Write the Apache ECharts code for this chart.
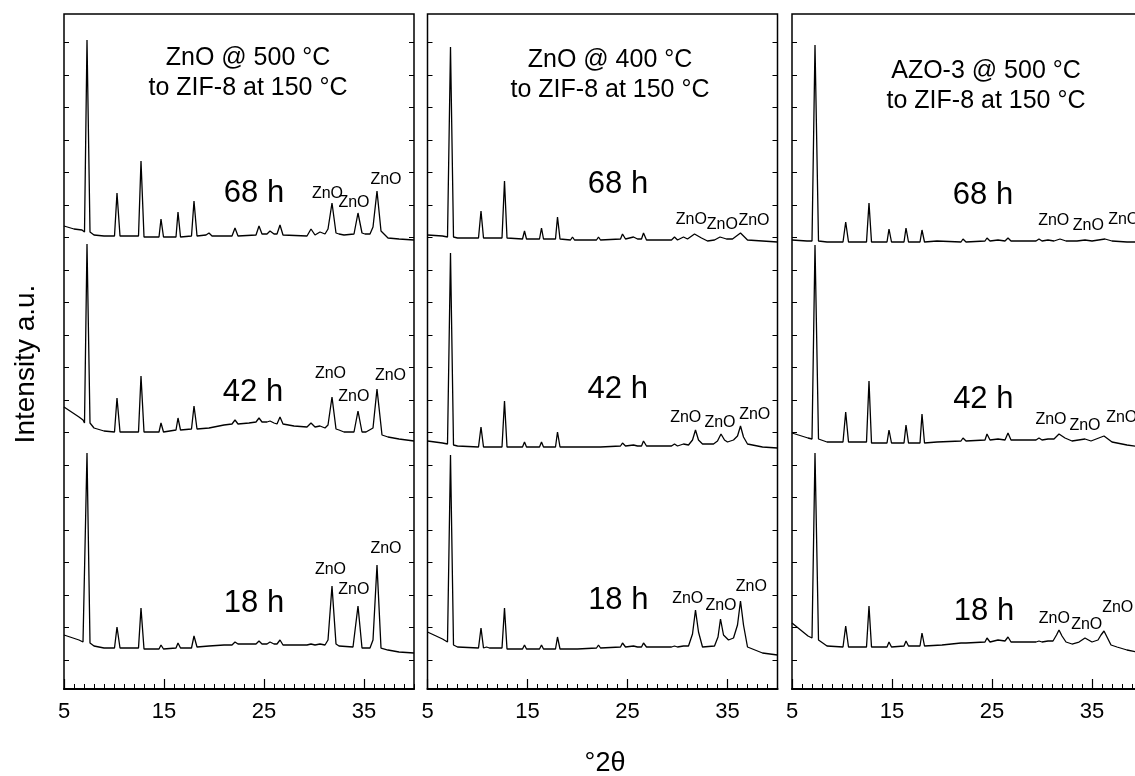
<!DOCTYPE html>
<html>
<head>
<meta charset="utf-8">
<script src="https://cdn.jsdelivr.net/npm/echarts@6/dist/echarts.min.js"></script>
<style>
  html, body { margin: 0; padding: 0; background: #fff; }
  #main { width: 1135px; height: 776px; }
</style>
</head>
<body>
<div id="main"></div>
<script>
// panel captions
var panelTitles = [
  'ZnO @ 500 °C\nto ZIF-8 at 150 °C',
  'ZnO @ 400 °C\nto ZIF-8 at 150 °C',
  'AZO-3 @ 500 °C\nto ZIF-8 at 150 °C'
];
var xTickLabels = [5, 15, 25, 35];

// XRD traces [2theta, intensity a.u.] (stacked)
var zno500_68h = [[5,463],[6,460],[6.8,459],[7.05,457],[7.3,649],[7.6,457],[8,454],[9,453],[10.05,453],[10.3,496],[10.6,453],[12.45,453],[12.7,528],[13,452],[14.5,452],[14.7,470],[14.95,452],[16.2,452],[16.4,477],[16.65,452],[17.75,453],[18,488],[18.3,453],[19.2,454],[19.5,456],[19.8,453],[21.8,453],[22.1,461],[22.4,453],[24.2,454],[24.5,463],[24.8,455],[25.3,455],[25.6,458],[26,455],[26.3,455],[26.6,464],[26.9,454],[29.3,453],[29.7,460],[30.1,454],[30.6,457],[31.1,455],[31.4,460],[31.8,486],[32.2,456],[32.5,455],[33,454],[34,455],[34.4,476],[34.8,456],[35.1,455],[35.6,455],[35.9,462],[36.3,498],[36.7,458],[37.4,451],[38.5,450],[40,449]];
var zno500_42h = [[5,282],[6.5,272],[6.9,269],[7.05,266],[7.3,445],[7.6,266],[8,261],[9,258],[10.05,257],[10.3,291],[10.6,257],[12.45,257],[12.7,313],[13,257],[14.5,257],[14.7,266],[14.95,257],[16.2,259],[16.4,271],[16.65,259],[17.75,260],[18,283],[18.3,260],[19.5,261],[21,264],[21.8,265],[22.1,269],[22.4,265],[23.5,266],[24.2,267],[24.5,271],[24.8,267],[25.3,267],[25.6,268],[26,266],[26.3,265],[26.6,272],[26.9,265],[28,263],[29.3,262],[29.7,266],[30.1,262],[30.6,263],[31.1,261],[31.4,264],[31.8,292],[32.2,260],[32.5,259],[33,257],[34,257],[34.4,278],[34.8,257],[35.2,257],[35.9,261],[36.3,300],[36.8,254],[37.4,252],[38.5,250],[40,248]];
var zno500_18h = [[5,54],[6.5,49],[6.9,47],[7.05,46],[7.3,236],[7.6,46],[8,43],[9,41],[10.05,41],[10.3,62],[10.6,41],[12.45,41],[12.7,81],[13,40],[14.5,40],[14.7,44],[14.95,40],[16.2,41],[16.4,46],[16.65,41],[17.75,41],[18,53],[18.3,42],[19.5,43],[21,44],[21.8,44],[22.1,47],[22.4,45],[24.2,45],[24.5,48],[24.8,45],[25.3,45],[25.6,47],[26,45],[26.3,45],[26.6,49],[26.9,44],[29.3,44],[29.7,45],[30.1,44],[30.6,45],[31.1,44],[31.4,49],[31.8,103],[32.2,45],[32.5,43],[33.9,42],[34.4,83],[34.8,41],[35.6,41],[35.9,49],[36.3,124],[36.7,41],[37.4,39],[38.5,37],[40,36]];

var zno400_68h = [[5,454],[6.5,453],[7,452],[7.3,642],[7.6,452],[8,451],[10.1,451],[10.35,478],[10.6,451],[12.45,451],[12.7,508],[12.95,451],[14.5,450],[14.7,458],[14.9,450],[16.2,450],[16.4,461],[16.6,450],[17.8,450],[18,472],[18.25,450],[19.3,449],[19.5,452],[19.7,449],[21.9,449],[22.1,452],[22.3,449],[24.3,450],[24.5,455],[24.8,450],[25.6,452],[26,450],[26.4,450],[26.6,456],[26.9,449],[29.4,449],[29.7,452],[30,449],[30.6,452],[31,450],[31.7,455],[32.4,451],[33,448],[33.7,449],[34.25,452],[34.9,450],[35.5,450],[36.3,456],[37,449],[38.5,448],[40,447]];
var zno400_42h = [[5,248],[6.5,246],[7,245],[7.3,436],[7.6,244],[8,243],[10.1,242],[10.35,262],[10.6,242],[12.45,242],[12.7,288],[12.95,242],[14.5,242],[14.7,247],[14.9,242],[16.2,242],[16.4,247],[16.6,242],[17.8,242],[18,257],[18.25,242],[21.9,242],[22.1,244],[22.3,242],[24.3,243],[24.5,246],[24.8,243],[25.6,244],[26,243],[26.4,243],[26.6,248],[26.9,243],[29.4,243],[29.7,245],[30,243],[30.6,245],[31.1,244],[31.5,249],[31.8,259],[32.1,249],[32.5,245],[33.6,245],[34,248],[34.35,255],[34.7,249],[35,247],[35.6,249],[36,253],[36.3,263],[36.6,252],[37,245],[38.5,242],[40,241]];
var zno400_18h = [[5,57],[6.5,50],[7,47],[7.3,234],[7.6,44],[8,42],[10.1,41],[10.35,61],[10.6,41],[10.9,42],[11.2,41],[12.45,41],[12.7,81],[12.95,40],[14.5,40],[14.7,44],[14.9,40],[16.2,40],[16.4,44],[16.6,40],[17.8,40],[18,52],[18.25,40],[20,40],[21.9,41],[22.1,44],[22.3,41],[24.3,42],[24.5,46],[24.8,42],[25.6,43],[26,42],[26.4,42],[26.6,46],[26.9,42],[29.4,42],[29.7,43],[30,42],[30.6,43],[31.1,43],[31.5,55],[31.8,79],[32.1,57],[32.5,42],[33.7,43],[34.05,52],[34.3,70],[34.6,54],[35.1,49],[35.6,51],[36,64],[36.3,88],[36.6,64],[37,42],[38.5,36],[40,34]];

var azo3_68h = [[5,449],[6.5,448],[7,448],[7.3,644],[7.65,448],[8.5,447],[10.1,447],[10.37,467],[10.65,447],[12.45,447],[12.7,486],[12.95,447],[14.5,447],[14.7,460],[14.95,447],[16.2,447],[16.4,461],[16.65,447],[17.8,447],[18,459],[18.25,447],[19.5,448],[21.9,447],[22.1,450],[22.4,447],[24.3,448],[24.5,451],[24.8,448],[25.6,449],[26.3,448],[26.6,451],[26.9,448],[29.4,448],[29.7,450],[30,448],[30.6,449],[31.2,448],[31.8,450],[32.4,448],[33.5,448],[34.3,449],[35,448],[36.3,450],[37,448],[38.5,447],[40,447]];
var azo3_42h = [[5,256],[6.6,251],[7,250],[7.3,444],[7.65,250],[8.5,247],[10.1,247],[10.37,277],[10.65,247],[12.45,247],[12.7,308],[12.95,246],[14.5,246],[14.7,259],[14.95,246],[16.2,246],[16.4,264],[16.65,246],[17.8,246],[18,275],[18.25,246],[19.5,247],[21.9,248],[22.1,251],[22.4,248],[24.3,249],[24.5,255],[24.8,249],[25.6,250],[26.3,249],[26.6,256],[26.9,249],[29.4,249],[29.7,251],[30,249],[30.6,250],[31.2,250],[31.7,255],[32.3,251],[33,248],[34.3,250],[34.9,248],[36.2,253],[37,247],[38.5,244],[40,242]];
var azo3_18h = [[5,66],[6.6,53],[7,51],[7.3,236],[7.65,49],[8.5,43],[10.1,42],[10.37,63],[10.65,42],[12.45,42],[12.7,83],[12.95,42],[14.5,42],[14.7,47],[14.95,42],[16.2,43],[16.4,48],[16.65,43],[17.8,43],[18,56],[18.25,43],[20,44],[21.9,46],[22.1,48],[22.4,46],[24.3,47],[24.5,51],[24.8,47],[25.6,49],[26.3,48],[26.6,52],[26.9,47],[29.4,47],[29.7,48],[30,47],[30.6,48],[31.1,48],[31.45,54],[31.7,59],[32,53],[32.4,47],[33,45],[33.7,47],[34.3,51],[35,47],[35.6,49],[35.9,54],[36.2,58],[36.5,52],[36.9,44],[37.5,42],[38.5,39],[40,36]];

// annotations [2theta, intensity, text]
var hourNotes = [
  [[24.0, 496, '68 h'], [23.9, 297, '42 h'], [24.0, 86, '18 h']],
  [[24.05, 505, '68 h'], [24.02, 300, '42 h'], [24.08, 89, '18 h']],
  [[24.1, 494, '68 h'], [24.13, 290, '42 h'], [24.2, 78, '18 h']]
];
var znoNotes = [
  [[31.35,495,'ZnO'],[34.0,486,'ZnO'],[37.2,509,'ZnO'],
   [31.65,315,'ZnO'],[33.98,292,'ZnO'],[37.65,313,'ZnO'],
   [31.65,119,'ZnO'],[33.98,99,'ZnO'],[37.2,140,'ZnO']],
  [[31.38,469,'ZnO'],[34.48,464,'ZnO'],[37.65,468,'ZnO'],
   [30.82,271,'ZnO'],[34.25,266,'ZnO'],[37.72,274,'ZnO'],
   [31.02,90,'ZnO'],[34.35,83,'ZnO'],[37.38,102,'ZnO']],
  [[31.17,468,'ZnO'],[34.63,463,'ZnO'],[38.17,469,'ZnO'],
   [30.9,269,'ZnO'],[34.3,263,'ZnO'],[37.97,271,'ZnO'],
   [31.23,70,'ZnO'],[34.47,64,'ZnO'],[37.57,81,'ZnO']]
];

var traces = [
  [zno500_18h, zno500_42h, zno500_68h],
  [zno400_18h, zno400_42h, zno400_68h],
  [azo3_18h, azo3_42h, azo3_68h]
];

var FONT = '"Liberation Sans", Arial, sans-serif';
var panelLeft = [64, 427.5, 792];
var yTickVals = [];
for (var k = 0; k < 20; k++) yTickVals.push(29 + 32.5 * k);

var grids = [], xAxes = [], yAxes = [], series = [], graphics = [];

traces.forEach(function (set, i) {
  grids.push({
    left: panelLeft[i], top: 14, width: 350, height: 675,
    outerBoundsMode: 'none', containLabel: false,
    show: true, borderColor: '#000', borderWidth: 1.5, backgroundColor: 'transparent'
  });
  // major ticks + labels
  xAxes.push({
    gridIndex: i, type: 'value', position: 'bottom', min: 5, max: 40, interval: 10,
    axisLine: { lineStyle: { color: '#000', width: 2 } },
    axisTick: { inside: true, length: 10, lineStyle: { color: '#000', width: 1.2 } },
    axisLabel: {
      color: '#000', fontSize: 22, fontFamily: FONT, margin: 12, showMaxLabel: false,
      formatter: function (v) { return xTickLabels.indexOf(v) >= 0 ? String(v) : ''; }
    },
    splitLine: { show: false }
  });
  // minor ticks
  xAxes.push({
    gridIndex: i, type: 'value', position: 'bottom', min: 5, max: 40, interval: 1,
    axisLine: { show: false },
    axisTick: { inside: true, length: 5, lineStyle: { color: '#000', width: 1 } },
    axisLabel: { show: false }, splitLine: { show: false }
  });
  ['left', 'right'].forEach(function (pos) {
    yAxes.push({
      gridIndex: i, type: 'value', position: pos, min: 0, max: 675,
      axisLine: { show: false },
      axisTick: { show: true, inside: true, length: 5, customValues: yTickVals, lineStyle: { color: '#000', width: 1 } },
      axisLabel: { show: false }, splitLine: { show: false }
    });
  });

  set.forEach(function (d) {
    series.push({
      type: 'line', xAxisIndex: 2 * i, yAxisIndex: 2 * i, data: d,
      showSymbol: false, symbol: 'none', smooth: false,
      lineStyle: { color: '#000', width: 1.3 }, silent: true
    });
  });

  series.push({
    type: 'scatter', xAxisIndex: 2 * i, yAxisIndex: 2 * i, data: hourNotes[i],
    symbolSize: 1, itemStyle: { color: 'rgba(0,0,0,0)', opacity: 1 }, silent: true, z: 5,
    label: { show: true, position: 'inside', color: '#000', opacity: 1, fontSize: 31, fontFamily: FONT,
      formatter: function (p) { return p.value[2]; } }
  });
  series.push({
    type: 'scatter', xAxisIndex: 2 * i, yAxisIndex: 2 * i, data: znoNotes[i],
    symbolSize: 1, itemStyle: { color: 'rgba(0,0,0,0)', opacity: 1 }, silent: true, z: 5,
    label: { show: true, position: 'inside', color: '#000', opacity: 1, fontSize: 16, fontFamily: FONT,
      formatter: function (p) { return p.value[2]; } }
  });
});

var titlePos = [[248, 73], [610, 75], [986, 86]];
panelTitles.forEach(function (t, i) {
  graphics.push({
    type: 'text', x: titlePos[i][0], y: titlePos[i][1], silent: true,
    style: { text: t, fontSize: 25, fontFamily: FONT, lineHeight: 30, fill: '#000',
      textAlign: 'center', textVerticalAlign: 'middle', align: 'center', verticalAlign: 'middle' }
  });
});
graphics.push({
  type: 'text', x: 605, y: 764, silent: true,
  style: { text: '°2θ', fontSize: 27, fontFamily: FONT, fill: '#000',
    textAlign: 'center', textVerticalAlign: 'middle', align: 'center', verticalAlign: 'middle' }
});
graphics.push({
  type: 'text', x: 26, y: 364, rotation: Math.PI / 2, silent: true,
  style: { text: 'Intensity a.u.', fontSize: 28, fontFamily: FONT, fill: '#000',
    textAlign: 'center', textVerticalAlign: 'middle', align: 'center', verticalAlign: 'middle' }
});

var chart = echarts.init(document.getElementById('main'));
chart.setOption({
  animation: false,
  backgroundColor: '#fff',
  grid: grids,
  xAxis: xAxes,
  yAxis: yAxes,
  series: series,
  graphic: graphics
});
</script>
</body>
</html>
